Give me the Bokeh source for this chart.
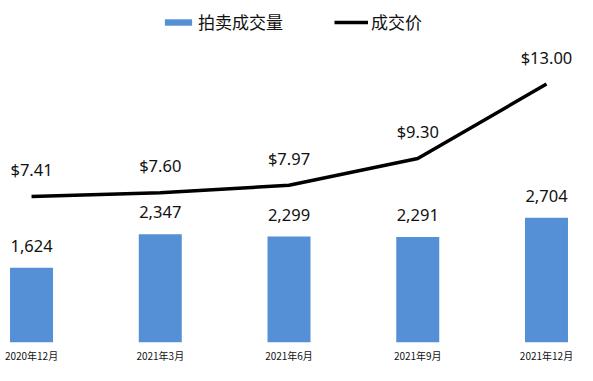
from bokeh.plotting import figure
from bokeh.models import Range1d, ColumnDataSource, Legend, LegendItem, FixedTicker
from bokeh.core.properties import value
from bokeh.embed import file_html
from bokeh.resources import INLINE

categories = ["2020年12月", "2021年3月", "2021年6月", "2021年9月", "2021年12月"]
volume = [1624, 2347, 2299, 2291, 2704]
price = [7.41, 7.60, 7.97, 9.30, 13.00]

xs = list(range(len(categories)))
src = ColumnDataSource(dict(
    x=xs, vol=volume, price=price,
    vol_lbl=[f"{v:,}" for v in volume],
    price_lbl=[f"${v:.2f}" for v in price],
))

p = figure(width=585, height=373, output_backend="svg", toolbar_location=None,
           x_range=Range1d(-0.241, 4.303), y_range=Range1d(0, 7419),
           min_border_left=0, min_border_right=0, min_border_top=0, min_border_bottom=31)
p.extra_y_ranges = {"price": Range1d(0.16, 17.15)}

bars = p.vbar(x="x", top="vol", width=0.334, source=src, color="#5590D6", line_color=None)
line = p.line(x="x", y="price", source=src, y_range_name="price", line_color="black", line_width=3.5)

p.text(x="x", y="vol", text="vol_lbl", source=src, text_align="center", text_baseline="middle",
       y_offset=-22, text_font=value("Noto Sans"), text_font_size="16.5px", text_color="#111111")
p.text(x="x", y="price", text="price_lbl", source=src, y_range_name="price", text_align="center",
       text_baseline="middle", y_offset=-27, text_font=value("Noto Sans"), text_font_size="16.5px",
       text_color="#111111")

p.yaxis.visible = False
p.xgrid.visible = False
p.ygrid.visible = False
p.outline_line_color = None

ax = p.xaxis[0]
ax.ticker = FixedTicker(ticks=xs)
ax.major_label_overrides = {i: c for i, c in zip(xs, categories)}
ax.axis_line_color = None
ax.major_tick_line_color = None
ax.minor_tick_line_color = None
ax.major_tick_out = 0
ax.major_label_standoff = 5
ax.major_label_text_font = "Noto Sans CJK SC"
ax.major_label_text_font_size = "10px"
ax.major_label_text_color = "#111111"

legend = Legend(items=[LegendItem(label="拍卖成交量", renderers=[bars]),
                       LegendItem(label="成交价", renderers=[line])],
                orientation="horizontal", location=(161, 308),
                glyph_width=34, glyph_height=8, label_height=20, label_standoff=3,
                spacing=51, padding=0, margin=0,
                border_line_color=None, background_fill_alpha=0,
                label_text_font="Noto Sans CJK SC", label_text_font_size="17px",
                label_text_color="#111111")
p.add_layout(legend)

open("out.html", "w").write(file_html(p, INLINE))
